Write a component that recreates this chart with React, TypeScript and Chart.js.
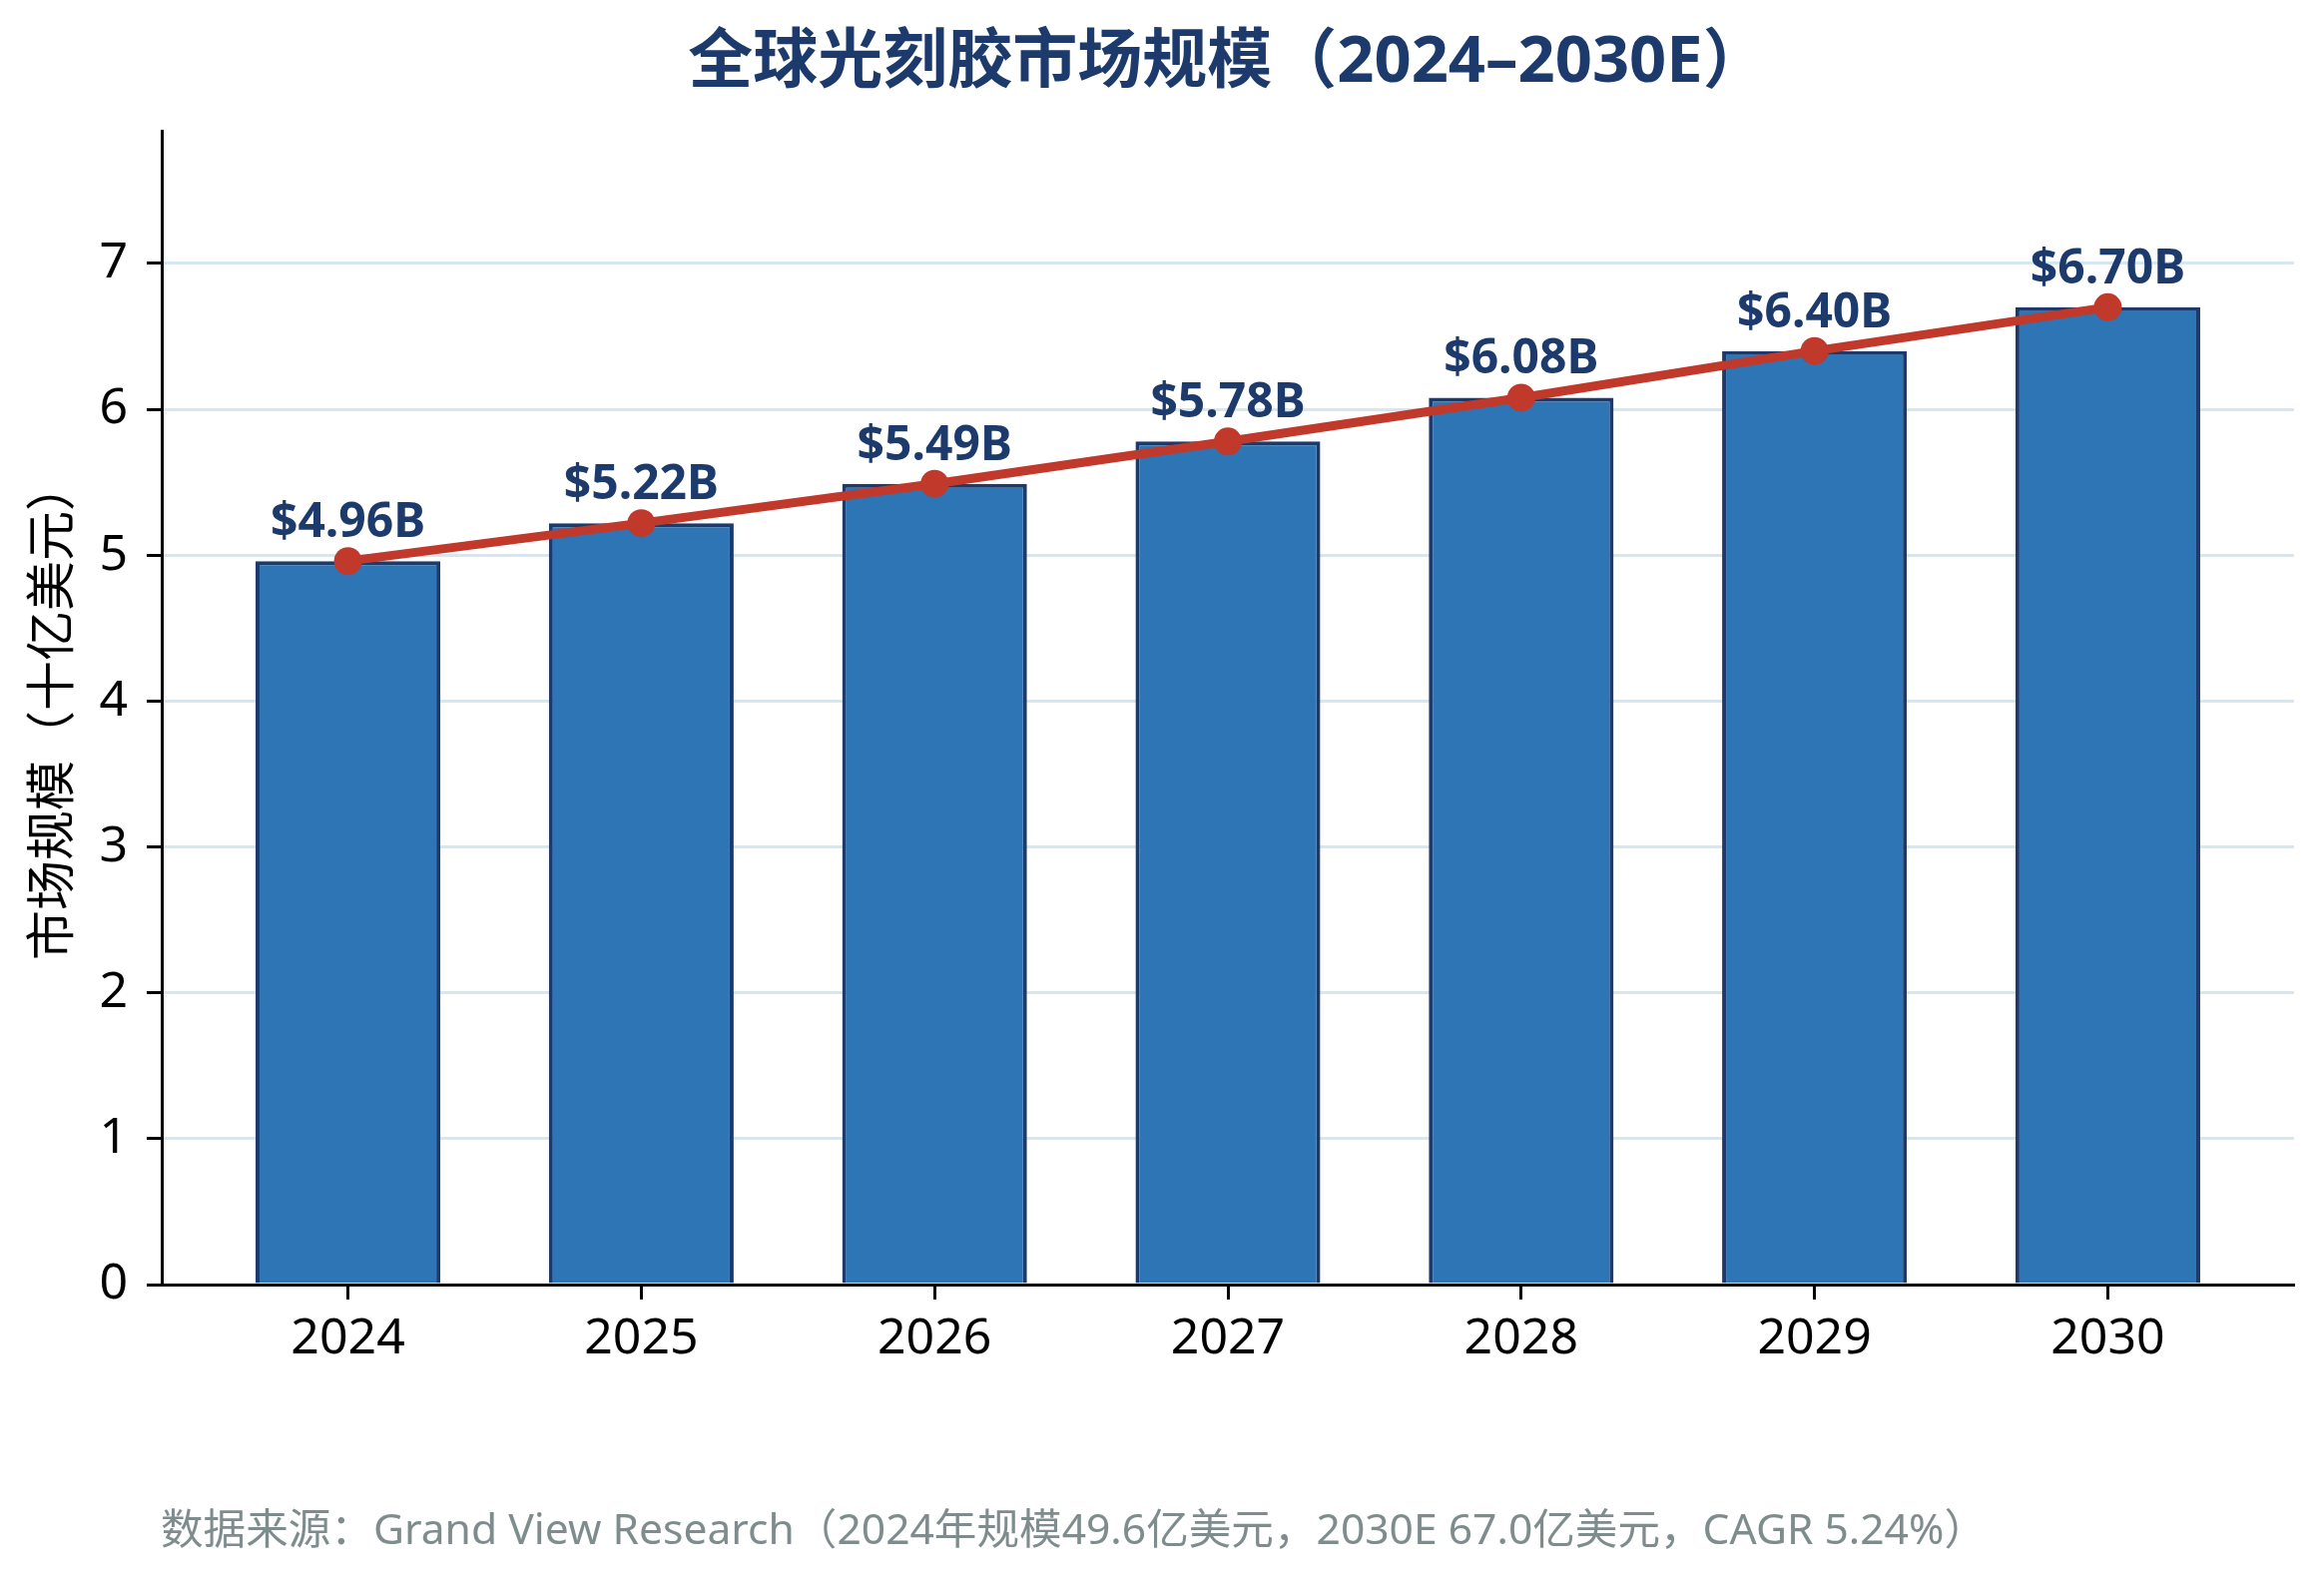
import React, { useEffect, useRef } from "react";
import { Chart, registerables } from "chart.js";

Chart.register(...registerables);

// ---- data ----
const years: string[] = ["2024", "2025", "2026", "2027", "2028", "2029", "2030"];
const marketSize: number[] = [4.96, 5.22, 5.49, 5.78, 6.08, 6.4, 6.7];
const yTicks: number[] = [0, 1, 2, 3, 4, 5, 6, 7];
const titleText = "全球光刻胶市场规模（2024–2030E）";
const yAxisTitle = "市场规模（十亿美元）";
const footerText =
  "数据来源：Grand View Research（2024年规模49.6亿美元，2030E 67.0亿美元，CAGR 5.24%）";

// ---- style ----
const FONT = "'Noto Sans', 'Noto Sans CJK SC', sans-serif";
const NAVY = "#1c3a6c";
const BAR_FILL = "#2e75b6";
const LINE_RED = "#c0392b";
const GRID = "#d5e7f0";
const FOOT = "#7f8c8d";

const W = 2328;
const H = 1582;

const textPlugin = {
  id: "customTexts",
  afterDatasetsDraw(chart: any) {
    const ctx = chart.ctx as CanvasRenderingContext2D;
    const area = chart.chartArea;
    const xs = chart.scales.x;
    const ys = chart.scales.y;
    ctx.save();

    // value labels
    ctx.font = `bold 48px ${FONT}`;
    ctx.fillStyle = NAVY;
    ctx.textAlign = "center";
    ctx.textBaseline = "alphabetic";
    marketSize.forEach((v, i) => {
      ctx.fillText(`$${v.toFixed(2)}B`, xs.getPixelForValue(i), ys.getPixelForValue(v) - 24);
    });

    // title
    ctx.font = `bold 65px ${FONT}`;
    ctx.fillStyle = NAVY;
    ctx.textAlign = "center";
    ctx.textBaseline = "middle";
    ctx.fillText(titleText, (area.left + area.right) / 2, 63);

    // y axis title
    ctx.save();
    ctx.translate(55, 712);
    ctx.rotate(-Math.PI / 2);
    ctx.font = `50px ${FONT}`;
    ctx.fillStyle = "#000000";
    ctx.textAlign = "center";
    ctx.textBaseline = "middle";
    ctx.fillText(yAxisTitle, 0, 0);
    ctx.restore();

    // footer
    ctx.font = `42.6px ${FONT}`;
    ctx.fillStyle = FOOT;
    ctx.textAlign = "left";
    ctx.textBaseline = "middle";
    ctx.fillText(footerText, 161, 1535);

    ctx.restore();
  },
};

export default function App() {
  const canvasRef = useRef<HTMLCanvasElement | null>(null);

  useEffect(() => {
    if (!canvasRef.current) return;
    const points = years.map((_, i) => ({ x: i, y: marketSize[i] }));
    const chart = new Chart(canvasRef.current, {
      type: "bar",
      data: {
        datasets: [
          {
            type: "line",
            label: "trend",
            data: points,
            borderColor: LINE_RED,
            borderWidth: 9,
            pointRadius: 14,
            pointHoverRadius: 14,
            pointBackgroundColor: LINE_RED,
            pointBorderWidth: 0,
            tension: 0,
            order: 0,
          } as any,
          {
            type: "bar",
            label: "market",
            data: points,
            backgroundColor: BAR_FILL,
            borderColor: NAVY,
            borderWidth: 4,
            borderSkipped: "start",
            barPercentage: 0.63,
            categoryPercentage: 1,
            order: 1,
          } as any,
        ],
      },
      options: {
        animation: false,
        responsive: true,
        maintainAspectRatio: false,
        events: [],
        layout: { padding: { left: 0, top: 131, right: 30, bottom: 175 } },
        plugins: {
          legend: { display: false },
          title: { display: false },
          tooltip: { enabled: false },
        },
        scales: {
          x: {
            type: "linear",
            min: -0.635,
            max: 6.635,
            offset: false,
            afterBuildTicks: (s: any) => {
              s.ticks = years.map((_, i) => ({ value: i }));
            },
            afterFit: (s: any) => {
              s.height = 120;
            },
            ticks: {
              callback: (v: any) => years[Math.round(Number(v))] ?? "",
              font: { family: FONT, size: 50 },
              color: "#000000",
              padding: 10,
              autoSkip: false,
              maxRotation: 0,
              minRotation: 0,
            },
            grid: {
              display: true,
              drawOnChartArea: false,
              drawTicks: true,
              tickLength: 15,
              tickColor: "#000000",
              tickWidth: 3,
              offset: false,
            },
            border: { display: true, color: "#000000", width: 3 },
          } as any,
          y: {
            type: "linear",
            min: 0,
            max: 7.91,
            afterBuildTicks: (s: any) => {
              s.ticks = yTicks.map((v) => ({ value: v }));
            },
            afterFit: (s: any) => {
              s.width = 162;
            },
            ticks: {
              font: { family: FONT, size: 50 },
              color: "#000000",
              padding: 19,
              callback: (v: any) => String(v),
            },
            grid: {
              color: GRID,
              lineWidth: 3,
              drawTicks: true,
              tickLength: 15,
              tickColor: "#000000",
              tickWidth: 3,
            },
            border: { display: true, color: "#000000", width: 3 },
          } as any,
        },
      },
      plugins: [textPlugin],
    });
    return () => chart.destroy();
  }, []);

  return (
    <div
      style={{
        position: "absolute",
        left: 0,
        top: 0,
        width: W,
        height: H,
        background: "#ffffff",
      }}
    >
      <canvas ref={canvasRef} />
    </div>
  );
}
